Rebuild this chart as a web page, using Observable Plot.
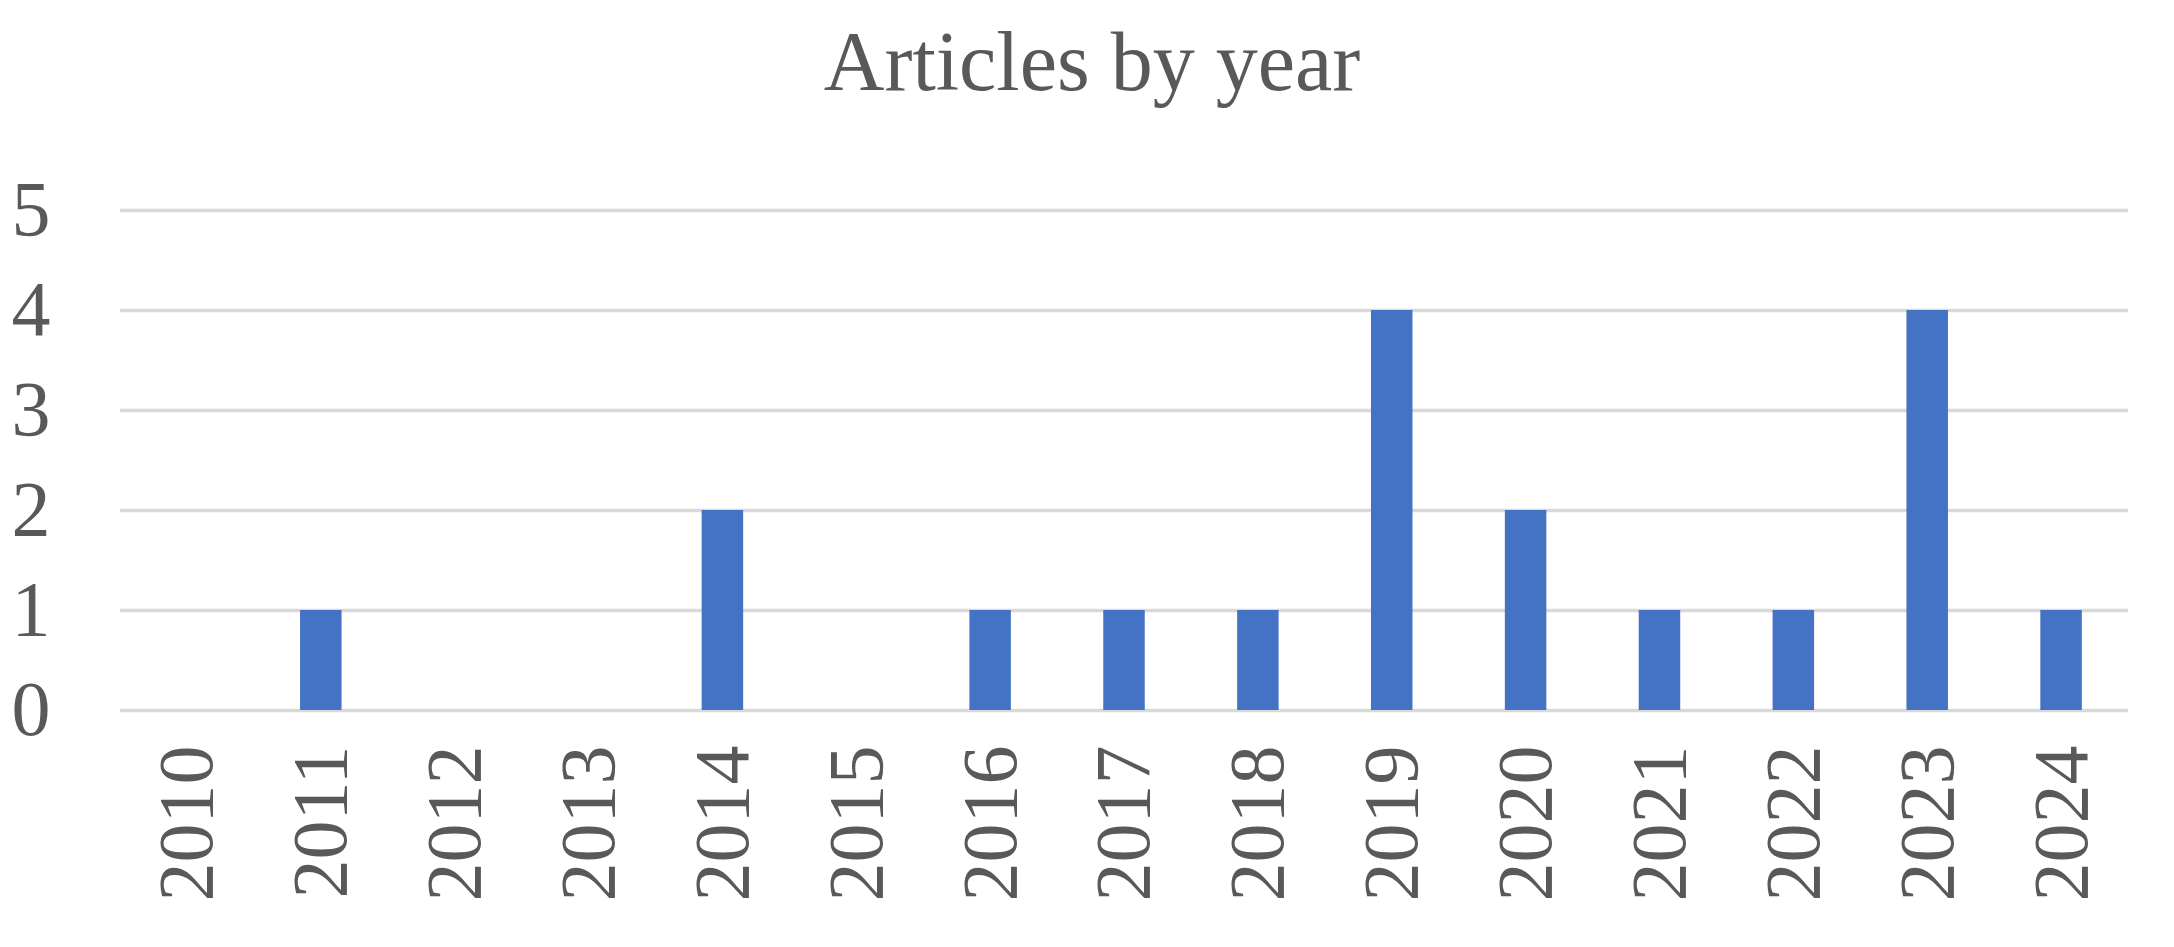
<!DOCTYPE html>
<html>
<head>
<meta charset="utf-8">
<script src="https://cdn.jsdelivr.net/npm/d3@7"></script>
<script src="https://cdn.jsdelivr.net/npm/@observablehq/plot@0.6"></script>
<style>
  html, body { margin: 0; padding: 0; background: #ffffff; }
  #title {
    width: 2174px; height: 140px; box-sizing: border-box;
    padding-top: 20px; text-align: center;
    font-family: "Liberation Serif", "Times New Roman", serif;
    font-size: 84px; line-height: 1; color: #595959;
    padding-left: 10px;
  }
</style>
</head>
<body>
<div id="title">Articles by year</div>
<div id="chart"></div>
<script>
const years = ["2010","2011","2012","2013","2014","2015","2016","2017","2018","2019","2020","2021","2022","2023","2024"];
const counts = [0, 1, 0, 0, 2, 0, 1, 1, 1, 4, 2, 1, 1, 4, 1];
const yTicks = [0, 1, 2, 3, 4, 5];

const data = years.map((y, i) => ({year: y, count: counts[i]}));

const chart = Plot.plot({
  width: 2174,
  height: 807,
  marginTop: 70,
  marginBottom: 237,
  marginLeft: 120,
  marginRight: 46,
  style: {
    fontFamily: '"Liberation Serif", "Times New Roman", serif',
    fontSize: "76px",
    color: "#595959",
    background: "#ffffff"
  },
  x: {domain: years, paddingInner: 0.69, paddingOuter: 0.345, round: false, label: null},
  y: {domain: [0, 5], label: null},
  marks: [
    Plot.ruleY(yTicks, {stroke: "#d9d9d9", strokeWidth: 3.5}),
    Plot.barY(data, {x: "year", y: "count", fill: "#4472C4"}),
    Plot.axisY({ticks: yTicks, tickFormat: d3.format("d"), tickSize: 0, tickPadding: 70, fontSize: 78, label: null}),
    Plot.axisX({tickRotate: -90, tickSize: 0, tickPadding: 35, fontSize: 78, label: null})
  ]
});
document.getElementById("chart").appendChild(chart);
</script>
</body>
</html>
